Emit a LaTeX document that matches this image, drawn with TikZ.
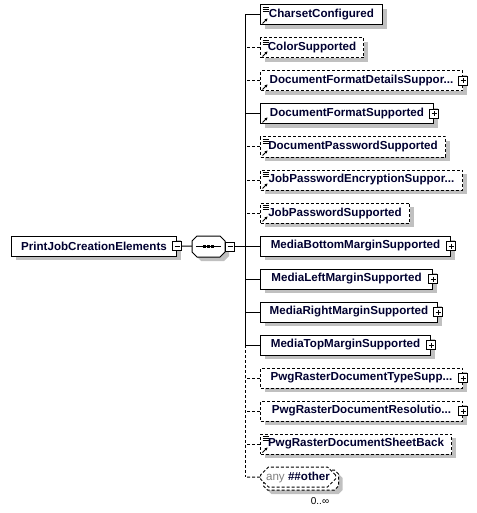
\documentclass[tikz,border=0pt]{standalone}
\usepackage{fontspec}
\setmainfont{Liberation Sans}
\definecolor{cc}{RGB}{192, 192, 192}
\definecolor{tx}{RGB}{0, 0, 48}
\usetikzlibrary{positioning}
\usetikzlibrary{shapes.misc}
\usetikzlibrary{shadows}
\usetikzlibrary{arrows.meta}

\begin{document}
\begin{tikzpicture}[
every node/.style={inner sep=0pt},
shd/.style={drop shadow={shadow xshift=4pt, shadow yshift=-4pt, fill=cc, opacity=1}},
elem/.style={draw=black, line width=1pt, fill=white, minimum height=20pt, anchor=west, text=tx, font=\fontsize{11.6}{13}\selectfont\bfseries, shd},
opt/.style={elem, dash pattern=on 3pt off 2pt},
optline/.style={dash pattern=on 3pt off 2pt},
conn/.style={line width=1pt, color=black},
ref/.style={path picture={
  \draw [solid, line width=0.8pt, -{Stealth[length=3pt, width=3pt]}] ([xshift=2pt, yshift=1.5pt]path picture bounding box.south west) -- ++(5pt, 5pt);}},
reftype/.style={path picture={
  \draw [solid, line width=0.8pt, -{Stealth[length=3pt, width=3pt]}] ([xshift=2pt, yshift=1.5pt]path picture bounding box.south west) -- ++(5pt, 5pt);
  \foreach \d in {2,4,6} \draw [solid, line width=0.7pt] ([xshift=2pt, yshift=-\d pt]path picture bounding box.north west) -- ++(6pt, 0pt);}},
plus/.style={draw=black, solid, line width=1pt, fill=white, minimum size=9pt, path picture={
  \draw [line width=1pt] ([xshift=2pt]path picture bounding box.west) -- ([xshift=-2pt]path picture bounding box.east)
    ([yshift=-2pt]path picture bounding box.north) -- ([yshift=2pt]path picture bounding box.south);}},
minus/.style={draw=black, solid, line width=1pt, fill=white, minimum size=9pt, path picture={
  \draw [line width=1pt] ([xshift=2pt]path picture bounding box.west) -- ([xshift=-2pt]path picture bounding box.east);}},
octo/.style={insert path={++(-16.5pt, 5.5pt) -- ++(5pt, 5pt) -- ++(23pt, 0pt) -- ++(5pt, -5pt) -- ++(0pt, -11pt) -- ++(-5pt, -5pt) -- ++(-23pt, 0pt) -- ++(-5pt, 5pt) -- cycle}},
anyel/.style={chamfered rectangle, chamfered rectangle sep=4pt, draw=black, line width=1pt, dash pattern=on 3pt off 2pt, fill=white, minimum width=75pt, minimum height=20pt, anchor=west, font=\fontsize{11.6}{13}\selectfont}
]
\useasboundingbox (0pt, 0pt) rectangle (476pt, -513pt);

% root and sequence
\node (root) [elem, minimum width=165pt] at (11pt, -246pt) {PrintJobCreationElements};
\node (m1) [minus] at (root.east) {};
\node (seq) [minimum width=33pt, minimum height=21pt] at (208.5pt, -246.5pt) {};
\fill [cc] ([shift={(4pt, -4pt)}]seq.center) [octo];
\draw [line width=1pt, fill=white] (seq.center) [octo];
\draw [line width=1pt] ([xshift=4pt]seq.west) -- ([xshift=-4pt]seq.east);
\foreach \x in {-4,0,4} \fill ([xshift=\x pt]seq.center) ++(-1.4pt, -1.4pt) rectangle ++(2.8pt, 2.8pt);
\node (m2) [minus, right=0pt of seq] {};
\coordinate (s) at (245pt, 0pt);

% children
\node (e1) [elem, reftype, minimum width=122pt] at (260pt, -15pt) {CharsetConfigured};
\node (e2) [opt, reftype, minimum width=103pt] at (260pt, -48pt) {ColorSupported};
\node (e3) [opt, ref, minimum width=202pt] at (260pt, -81pt) {DocumentFormatDetailsSuppor...};
\node (e4) [elem, ref, minimum width=173pt] at (260pt, -114pt) {DocumentFormatSupported};
\node (e5) [opt, reftype, minimum width=185pt] at (260pt, -147pt) {DocumentPasswordSupported};
\node (e6) [opt, reftype, minimum width=202pt] at (260pt, -180pt) {JobPasswordEncryptionSuppor...};
\node (e7) [opt, reftype, minimum width=149pt] at (260pt, -213pt) {JobPasswordSupported};
\node (e8) [elem, minimum width=190pt] at (260pt, -246pt) {MediaBottomMarginSupported};
\node (e9) [elem, minimum width=172pt] at (260pt, -279pt) {MediaLeftMarginSupported};
\node (e10) [elem, minimum width=177pt] at (260pt, -312pt) {MediaRightMarginSupported};
\node (e11) [elem, minimum width=170pt] at (260pt, -345pt) {MediaTopMarginSupported};
\node (e12) [opt, minimum width=202pt] at (260pt, -378pt) {PwgRasterDocumentTypeSupp...};
\node (e13) [opt, minimum width=202pt] at (260pt, -411pt) {PwgRasterDocumentResolutio...};
\node (e14) [opt, reftype, minimum width=191pt] at (260pt, -444pt) {PwgRasterDocumentSheetBack};
\node (oth2) [anyel, shd] at (263pt, -480pt) {\rule{0pt}{9pt}};
\node (oth) [anyel] at (260pt, -477pt) {\textcolor{gray}{any} \textcolor{tx}{\bfseries\#\#other}};
\node (mult) [font=\fontsize{10}{12}\selectfont] at (320pt, -501pt) {0..∞};

% expand boxes
\node (p3) [plus] at (e3.east) {};
\node (p4) [plus] at (e4.east) {};
\node (p8) [plus] at (e8.east) {};
\node (p9) [plus] at (e9.east) {};
\node (p10) [plus] at (e10.east) {};
\node (p11) [plus] at (e11.east) {};
\node (p12) [plus] at (e12.east) {};
\node (p13) [plus] at (e13.east) {};

% connectors
\draw [conn] (m1) to (seq);
\draw [conn] (m2) to (m2 -| s);
\draw [conn] (e1.west -| s) to (e11.west -| s);
\draw [conn, optline] (e11.west -| s) to (oth.west -| s);
\draw [conn] (e1) to (e1.west -| s);
\draw [conn, optline] (e2) to (e2.west -| s);
\draw [conn, optline] (e3) to (e3.west -| s);
\draw [conn] (e4) to (e4.west -| s);
\draw [conn, optline] (e5) to (e5.west -| s);
\draw [conn, optline] (e6) to (e6.west -| s);
\draw [conn, optline] (e7) to (e7.west -| s);
\draw [conn] (e8) to (e8.west -| s);
\draw [conn] (e9) to (e9.west -| s);
\draw [conn] (e10) to (e10.west -| s);
\draw [conn] (e11) to (e11.west -| s);
\draw [conn, optline] (e12) to (e12.west -| s);
\draw [conn, optline] (e13) to (e13.west -| s);
\draw [conn, optline] (e14) to (e14.west -| s);
\draw [conn, optline] (oth) to (oth.west -| s);
\end{tikzpicture}
\end{document}
